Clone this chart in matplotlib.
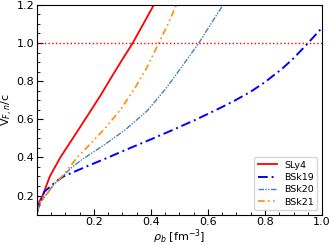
import matplotlib
matplotlib.use('Agg')
import matplotlib.pyplot as plt
from matplotlib.ticker import MultipleLocator

# values (rho_b in fm^-3, v_F,n / c)
sly4_rho = [0.0, 0.005, 0.02, 0.045, 0.082, 0.13, 0.18, 0.225, 0.265, 0.30, 0.336, 0.41]
sly4_v = [0.11, 0.16, 0.20, 0.30, 0.40, 0.51, 0.625, 0.73, 0.83, 0.915, 1.00, 1.20]

bsk19_rho = [0.0, 0.01, 0.026, 0.047, 0.07, 0.093, 0.12, 0.17, 0.25, 0.32, 0.40, 0.47, 0.56, 0.63, 0.69, 0.75, 0.80, 0.86, 0.90, 0.945, 1.0]
bsk19_v = [0.11, 0.16, 0.22, 0.248, 0.277, 0.30, 0.318, 0.35, 0.40, 0.445, 0.495, 0.54, 0.60, 0.65, 0.695, 0.745, 0.795, 0.865, 0.92, 0.99, 1.08]

bsk20_rho = [0.0, 0.01, 0.035, 0.06, 0.082, 0.12, 0.159, 0.24, 0.31, 0.387, 0.457, 0.51, 0.568, 0.61, 0.653]
bsk20_v = [0.11, 0.16, 0.21, 0.26, 0.29, 0.345, 0.39, 0.47, 0.545, 0.645, 0.77, 0.88, 1.00, 1.10, 1.20]

bsk21_rho = [0.0, 0.01, 0.036, 0.06, 0.088, 0.141, 0.19, 0.24, 0.293, 0.346, 0.385, 0.424, 0.46, 0.489]
bsk21_v = [0.11, 0.16, 0.21, 0.26, 0.30, 0.40, 0.475, 0.555, 0.65, 0.77, 0.87, 0.99, 1.10, 1.20]

plt.rcParams['font.size'] = 8

fig = plt.figure(figsize=(3.33, 2.45), dpi=100)
ax = fig.add_axes([0.111, 0.124, 0.856, 0.856])

ax.plot(sly4_rho, sly4_v, color='red', lw=1.3, label='SLy4')
ax.plot(bsk19_rho, bsk19_v, color='blue', lw=1.4, ls=(0, (5, 2, 1, 2)), label='BSk19')
ax.plot(bsk20_rho, bsk20_v, color='steelblue', lw=1.0, ls=(0, (4, 1, 1, 1, 1, 1)), label='BSk20')
ax.plot(bsk21_rho, bsk21_v, color='darkorange', lw=1.2, ls=(0, (4, 2, 1, 2, 1, 2)), label='BSk21')
ax.axhline(1.0, color='red', lw=1.0, ls=':')

ax.set_xlim(0, 1.0)
ax.set_ylim(0.1, 1.2)
ax.xaxis.set_minor_locator(MultipleLocator(0.05))
ax.yaxis.set_minor_locator(MultipleLocator(0.05))
ax.set_xticks([0.2, 0.4, 0.6, 0.8, 1.0])
ax.set_yticks([0.2, 0.4, 0.6, 0.8, 1.0, 1.2])
ax.tick_params(which='both', direction='in', pad=2)
ax.tick_params(which='major', length=4)
ax.tick_params(which='minor', length=2)

ax.set_xlabel(r'$\rho_b$ [fm$^{-3}$]', labelpad=0)
ax.set_ylabel(r'V$_{F,n}$/c', labelpad=1)
ax.legend(loc='lower right', fontsize=6.8, handlelength=2.0, labelspacing=0.35, borderpad=0.35)

fig.savefig('out.png', dpi=100)
